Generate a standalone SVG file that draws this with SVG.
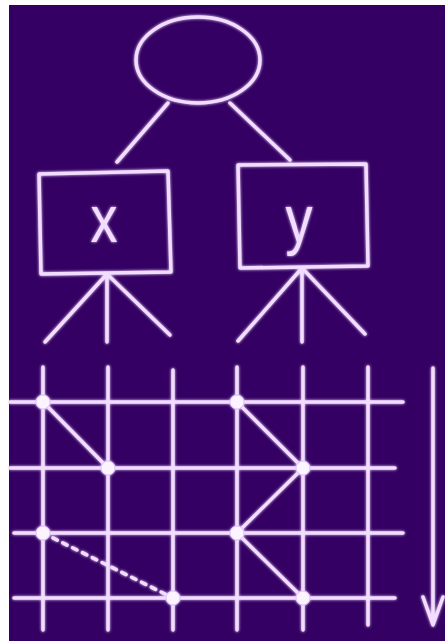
<svg xmlns="http://www.w3.org/2000/svg" width="445" height="641" viewBox="0 0 445 641">
<defs>
<style>
.ln{fill:none;stroke:#f2dcff;stroke-width:3.5;stroke-linecap:round;stroke-linejoin:round}
.dot{fill:#fbf4ff;stroke:#e0c0ff;stroke-width:1}
.lbl{font-family:"Liberation Sans",Arial,sans-serif;font-size:66px;fill:#f2dcff}
</style>
<filter id="glow" x="-10%" y="-10%" width="120%" height="120%">
<feGaussianBlur in="SourceGraphic" stdDeviation="1.6" result="b"/>
<feMerge><feMergeNode in="b"/><feMergeNode in="SourceGraphic"/></feMerge>
</filter>
</defs>
<rect x="0" y="0" width="445" height="641" fill="#ffffff"/>
<rect x="9" y="5" width="436" height="636" fill="#340063"/>
<g filter="url(#glow)">
<g id="root"><ellipse class="ln" cx="198" cy="60" rx="62" ry="43"/></g>
<g id="node-x"><path class="ln" d="M39 174 L168 171 L171 272 L41 274 Z"/><text class="lbl" x="104" y="242" text-anchor="middle" transform="translate(104 0) scale(0.82 1) translate(-104 0)">x</text></g>
<g id="node-y"><path class="ln" d="M238 165 L366 164 L368 266 L240 268 Z"/><text class="lbl" x="299" y="242" text-anchor="middle" transform="translate(299 0) scale(0.82 1) translate(-299 0)">y</text></g>
<g id="grid">
<path class="ln" d="M43 367 V630 M108 367 V630 M173 370 V630 M237 367 V630 M303 367 V630 M368 367 V625"/>
<path class="ln" d="M10 402 H403 M10 468 H395 M14 533 H403 M14 598 H395"/>
</g>
<g id="connectors">
<path class="ln" d="M168 103 L117 162 M230 103 L290 160"/>
<path class="ln" d="M107 274 L45 342 M107 274 V342 M107 274 L170 335"/>
<path class="ln" d="M302 268 L238 341 M302 268 V342 M302 268 L365 334"/>
<path class="ln" d="M43 402 L108 468 M237 402 L303 468 L237 533 L303 598"/>
<path class="ln" d="M43 533 L173 598" stroke-dasharray="5 6"/>
<path class="ln" d="M433 368 V625 M423 597 L433 625 L443 597"/>
</g>
<g id="dots">
<circle class="dot" cx="43" cy="402" r="7"/>
<circle class="dot" cx="108" cy="468" r="7"/>
<circle class="dot" cx="43" cy="533" r="7"/>
<circle class="dot" cx="173" cy="598" r="7"/>
<circle class="dot" cx="237" cy="402" r="7"/>
<circle class="dot" cx="303" cy="468" r="7"/>
<circle class="dot" cx="237" cy="533" r="7"/>
<circle class="dot" cx="303" cy="598" r="7"/>
</g>
</g>
</svg>
